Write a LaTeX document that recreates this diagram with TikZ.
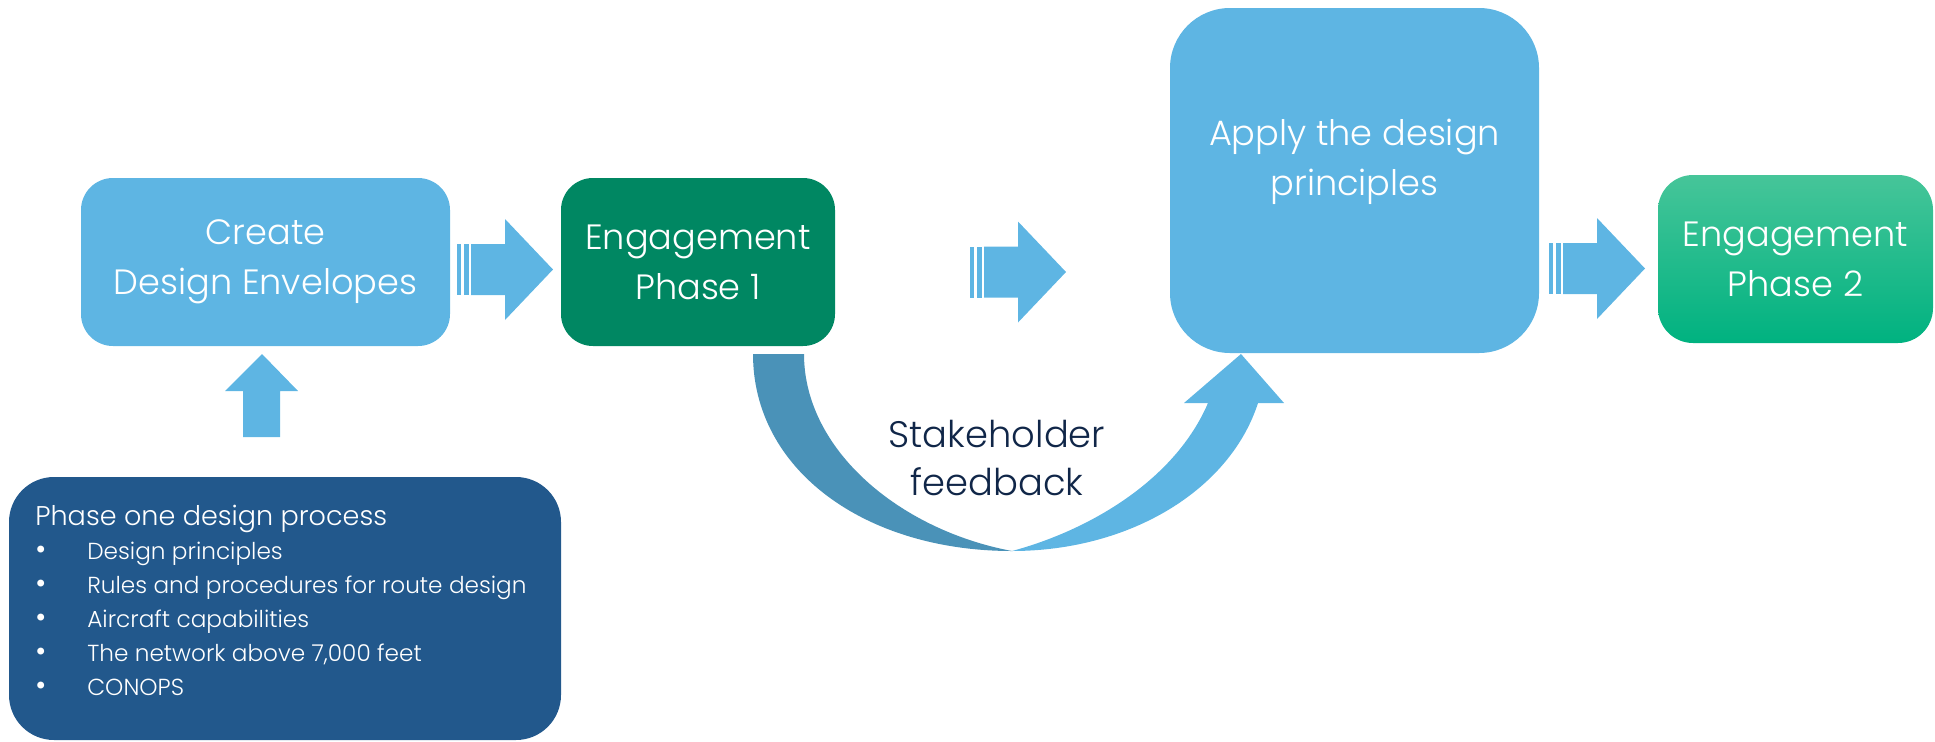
\documentclass[tikz,border=0pt]{standalone}
\usepackage{fontspec}
\setmainfont{Poppins}[UprightFont=* Light]
\usetikzlibrary{positioning}
\definecolor{boxblue}{RGB}{94,181,227}
\definecolor{engdark}{RGB}{0,135,98}
\definecolor{phaseblue}{RGB}{34,88,140}
\definecolor{loopdark}{RGB}{74,146,184}
\definecolor{navy}{RGB}{16,38,72}
\definecolor{engtop}{RGB}{70,197,153}
\definecolor{engmid}{RGB}{0,188,136}
\definecolor{engbot}{RGB}{0,178,128}
\newdimen\pxu \pxu=0.02cm
\newcommand{\bulletrow}{\makebox[52\pxu][l]{\fontsize{17}{19.3}\selectfont •}}
\tikzset{
flowbox/.style={rounded corners=32\pxu, inner sep=0pt, outer sep=0pt, align=center, text=white,
  font=\fontsize{20}{28.3}\selectfont}, % every box of the flow
bluebox/.style={flowbox, fill=boxblue},
greenbox/.style={flowbox, fill=engdark},
pics/stripearrow/.style={code={
  \fill[boxblue] (0,-25.5) rectangle (4,25.5);
  \fill[boxblue] (6.5,-25.5) rectangle (12,25.5);
  \fill[boxblue] (14,-25.5) -- (48,-25.5) -- (48,-50.5) -- (96,0) -- (48,50.5) -- (48,25.5) -- (14,25.5) -- cycle;
}},
}

\begin{document}
\begin{tikzpicture}[x=0.02cm, y=-0.02cm]
        \useasboundingbox (0,0) rectangle (1935,741);
        % top row of boxes
        \node[bluebox, minimum width=369\pxu, minimum height=168\pxu] (create) at (265.5,262) {Create\\Design Envelopes};
        \node[greenbox, minimum width=274\pxu, minimum height=168\pxu, right=111\pxu of create] (eng1) {Engagement\\Phase 1};
        \node[bluebox, rounded corners=60\pxu, minimum width=369\pxu, minimum height=345\pxu] (apply) at (1354.5,180.5) {};
        \node[text=white, align=center, font=\fontsize{20}{28.3}\selectfont] (applytext) at (1354.5,162) {Apply the design\\principles};
        \node[flowbox, rounded corners=35\pxu, top color=engtop, middle color=engmid, bottom color=engbot,
          minimum width=275\pxu, minimum height=168\pxu] (eng2) at (1795.5,259) {Engagement\\Phase 2};
        % striped arrows between the boxes
        \pic at (457,269.5) {stripearrow};
        \pic at (970,272) {stripearrow};
        \pic at (1549,268.5) {stripearrow};
        % input box
        \node[flowbox, fill=phaseblue, rounded corners=45\pxu, minimum width=552\pxu, minimum height=263\pxu] (phase) at (285,608.5) {};
        \node[anchor=north west, inner sep=0pt, align=left, text=white, font=\fontsize{13.2}{19.3}\selectfont] (steps) at (35,505)
          {{\fontsize{15.4}{19.3}\selectfont Phase one design process}\\
           \bulletrow Design principles\\
           \bulletrow Rules and procedures for route design\\
           \bulletrow Aircraft capabilities\\
           \bulletrow The network above 7,000 feet\\
           \bulletrow CONOPS};
        % up arrow into the first box
        \fill[boxblue] (243,437) -- (243,391) -- (225,391) -- (262,354) -- (298,391) -- (280,391) -- (280,437) -- cycle;
        % feedback loop, back half
        \fill[loopdark] (753,354) .. controls (753,470) and (865,551) .. (1012,551)
          .. controls (900,530) and (804,450) .. (804,354) -- cycle;
        % feedback loop, front half with its head
        \fill[boxblue] (1012,551) .. controls (1130,551) and (1230,490) .. (1258,403)
          -- (1284,403) -- (1241,354) -- (1184,403) -- (1208,403)
          .. controls (1175,480) and (1090,530) .. (1012,551) -- cycle;
        \node[text=navy, align=center, font=\fontsize{21}{27.8}\selectfont] (feedback) at (997,458) {Stakeholder\\feedback};
    \end{tikzpicture}
\end{document}
